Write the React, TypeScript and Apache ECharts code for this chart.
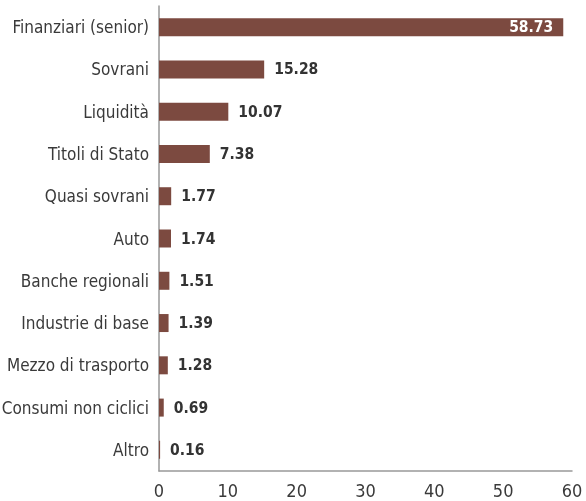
import React, { useEffect, useRef } from "react";
import * as echarts from "echarts";

const categories = [
  "Finanziari (senior)",
  "Sovrani",
  "Liquidità",
  "Titoli di Stato",
  "Quasi sovrani",
  "Auto",
  "Banche regionali",
  "Industrie di base",
  "Mezzo di trasporto",
  "Consumi non ciclici",
  "Altro",
];
const values = [58.73, 15.28, 10.07, 7.38, 1.77, 1.74, 1.51, 1.39, 1.28, 0.69, 0.16];

const FONT = "'DejaVu Sans Condensed', 'DejaVu Sans', sans-serif";

export default function App() {
  const ref = useRef<HTMLDivElement>(null);
  useEffect(() => {
    const chart = echarts.init(ref.current!, null, { renderer: "svg" });
    const cats = [...categories].reverse();
    const vals = [...values].reverse();
    chart.setOption({
      animation: false,
      grid: { left: 159, right: 14, top: 6, bottom: 30, outerBoundsMode: "none" },
      xAxis: {
        type: "value",
        min: 0,
        max: 60,
        interval: 10,
        axisLine: { show: true, lineStyle: { color: "#999", width: 1.5 } },
        axisTick: { show: false },
        splitLine: { show: false },
        axisLabel: { color: "#3a3a3a", fontSize: 18, fontFamily: FONT, margin: 10 },
      },
      yAxis: {
        type: "category",
        data: cats,
        axisLine: { show: true, lineStyle: { color: "#999", width: 1.5 } },
        axisTick: { show: false },
        axisLabel: { color: "#3a3a3a", fontSize: 17, fontFamily: FONT, margin: 10 },
      },
      series: [
        {
          type: "bar",
          data: vals.map((v, i) => ({
            value: v,
            label:
              i === vals.length - 1
                ? { position: "insideRight", color: "#fff", distance: 10 }
                : { position: "right", color: "#333", distance: 10 },
          })),
          barWidth: 18,
          itemStyle: { color: "#7c4a40" },
          label: {
            show: true,
            fontSize: 15.5,
            fontWeight: "bold",
            fontFamily: FONT,
            formatter: (p: any) => p.value.toFixed(2),
          },
        },
      ],
    });
    return () => chart.dispose();
  }, []);
  return <div ref={ref} style={{ position: "fixed", left: 0, top: 0, width: 586, height: 501 }} />;
}
